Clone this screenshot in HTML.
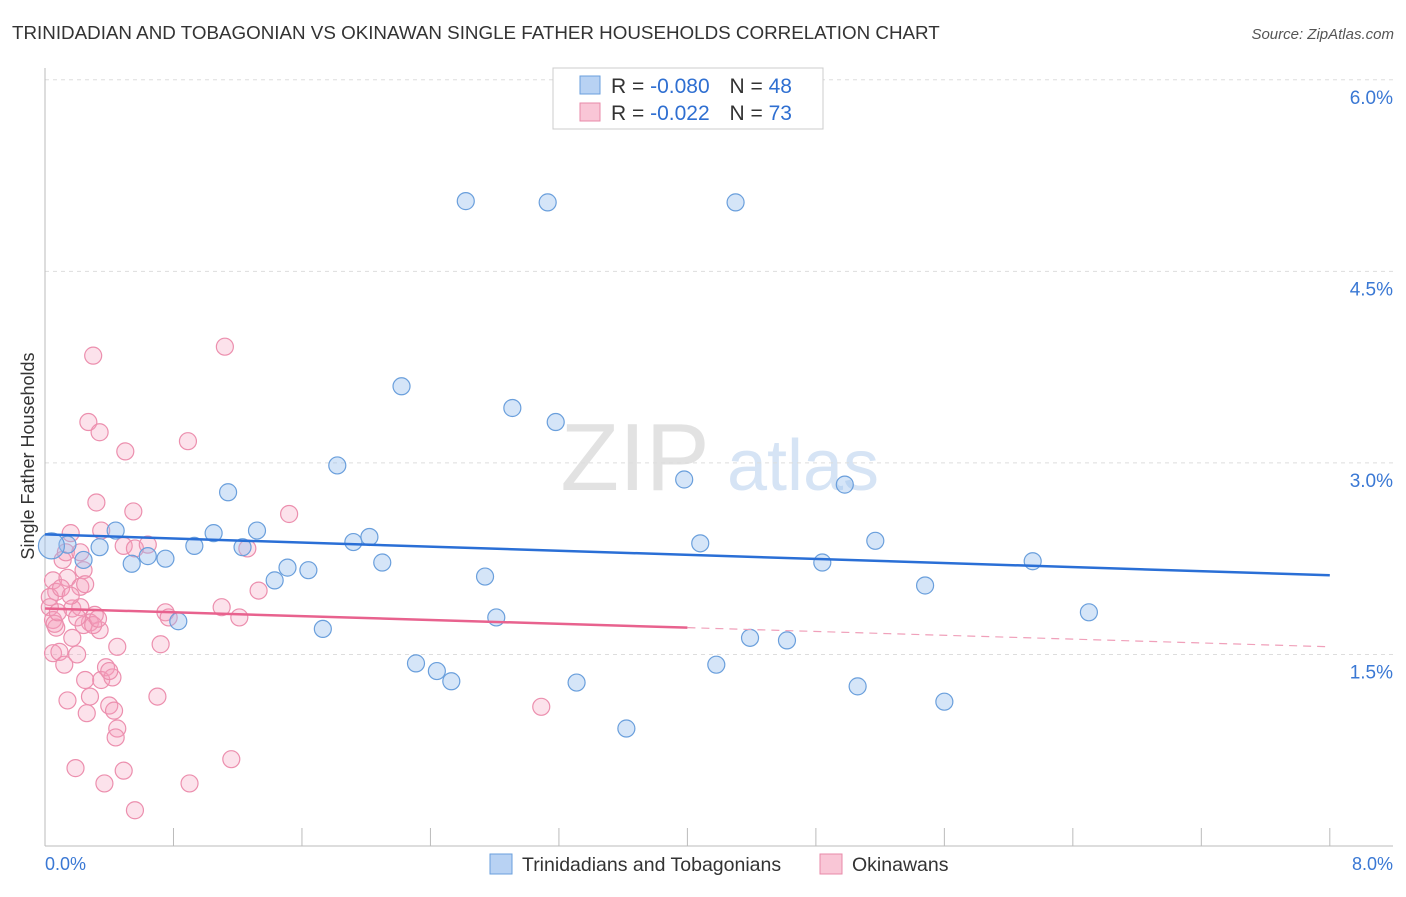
<!DOCTYPE html>
<html><head><meta charset="utf-8"><style>
body{margin:0;background:#fff;font-family:"Liberation Sans",sans-serif}
svg text{font-family:"Liberation Sans",sans-serif}
</style></head><body>
<svg id="chart" width="1406" height="892">
<text x="12" y="39" font-size="18.8" fill="#333">TRINIDADIAN AND TOBAGONIAN VS OKINAWAN SINGLE FATHER HOUSEHOLDS CORRELATION CHART</text>
<text x="1394" y="39" font-size="15" fill="#555" font-style="italic" text-anchor="end">Source: ZipAtlas.com</text>
<text x="635" y="490" font-size="96" fill="#e2e2e2" font-family="Liberation Serif" text-anchor="middle">ZIP</text>
<text x="803" y="490" font-size="72" fill="#d6e4f5" text-anchor="middle">atlas</text>
<g id="grid"></g><g id="axes"></g><g id="pts"></g><g id="trend"></g>
<text transform="translate(34,456) rotate(-90)" font-size="18" fill="#333" text-anchor="middle">Single Father Households</text>
<rect x="553" y="68" width="270" height="61" fill="#fff" stroke="#ccc"/>
<rect x="580" y="76" width="20" height="18" fill="#b8d2f3" stroke="#6a9fdc"/>
<rect x="580" y="103" width="20" height="18" fill="#f9c6d6" stroke="#e88aa8"/>
<text x="611" y="93" font-size="21" fill="#333">R = <tspan fill="#2f6fd1">-0.080</tspan>  <tspan dx="14">N = </tspan><tspan fill="#2f6fd1">48</tspan></text>
<text x="611" y="120" font-size="21" fill="#333">R =  <tspan fill="#2f6fd1">-0.022</tspan>  <tspan dx="14">N = </tspan><tspan fill="#2f6fd1">73</tspan></text>
<rect x="490" y="854" width="22" height="20" fill="#b8d2f3" stroke="#6a9fdc"/>
<text x="522" y="871" font-size="19.5" fill="#333">Trinidadians and Tobagonians</text>
<rect x="820" y="854" width="22" height="20" fill="#f9c6d6" stroke="#e88aa8"/>
<text x="852" y="871" font-size="19.5" fill="#333">Okinawans</text>
</svg>
<script>
const yTicks=[6.0,4.5,3.0,1.5];
const yTickLabels=["6.0%","4.5%","3.0%","1.5%"];
const xTickLabels=["0.0%","8.0%"];
const blueX=[2.62,3.13,4.30,2.22,2.91,3.18,1.82,3.98,4.98,1.14,4.08,5.17,0.44,1.05,1.32,2.02,1.92,0.93,1.23,0.34,0.14,0.04,0.24,0.64,0.75,0.54,2.10,4.84,6.15,1.51,1.64,1.43,2.74,5.48,6.50,2.81,0.83,1.73,4.39,4.62,2.31,2.44,2.53,4.18,3.31,5.06,5.60,3.62];
const blueY=[5.05,5.04,5.04,3.60,3.43,3.32,2.98,2.87,2.83,2.77,2.37,2.39,2.47,2.45,2.47,2.42,2.38,2.35,2.34,2.34,2.36,2.35,2.24,2.27,2.25,2.21,2.22,2.22,2.23,2.18,2.16,2.08,2.11,2.04,1.83,1.79,1.76,1.70,1.63,1.61,1.43,1.37,1.29,1.42,1.28,1.25,1.13,0.92];
const pinkX=[0.30,1.12,0.27,0.34,0.50,0.89,0.32,0.55,1.52,0.16,0.35,0.49,0.56,0.64,1.26,0.11,0.24,0.05,0.14,0.22,0.07,1.33,0.03,0.17,0.22,0.31,0.03,1.10,0.75,0.05,0.28,0.34,0.77,1.21,0.17,0.07,0.24,0.45,0.72,0.05,0.09,0.20,0.12,0.38,0.25,0.35,0.42,0.14,0.28,0.70,0.40,0.26,0.45,0.44,0.19,0.49,0.37,0.90,1.16,0.56,3.09,0.10,0.20,0.30,0.13,0.40,0.16,0.06,0.33,0.43,0.22,0.08,0.25];
const pinkY=[3.84,3.91,3.32,3.24,3.09,3.17,2.69,2.62,2.60,2.45,2.47,2.35,2.33,2.36,2.33,2.24,2.16,2.08,2.10,2.03,1.99,2.00,1.95,1.86,1.87,1.81,1.87,1.87,1.83,1.77,1.75,1.69,1.79,1.79,1.63,1.71,1.73,1.56,1.58,1.51,1.52,1.50,1.42,1.40,1.30,1.30,1.32,1.14,1.17,1.17,1.10,1.04,0.92,0.85,0.61,0.59,0.49,0.49,0.68,0.28,1.09,2.02,1.79,1.73,2.30,1.37,1.96,1.74,1.78,1.06,2.30,1.83,2.05];
const blueTrend=[[0,2.44],[8,2.12]];
const pinkTrendSolid=[[0,1.86],[4.0,1.71]];
const pinkTrendDash=[[4.0,1.71],[8,1.56]];
const xS=v=>45+v*160.6, yS=v=>846-v*127.7;
const NS="http://www.w3.org/2000/svg";
function mk(p,t,a){const e=document.createElementNS(NS,t);for(const k in a)e.setAttribute(k,a[k]);document.getElementById(p).appendChild(e);return e;}
yTicks.forEach((t,i)=>{
 const l=mk('grid','line',{x1:45,x2:1393,y1:yS(t),y2:yS(t),stroke:'#ddd','stroke-dasharray':'4,4'});
 
 
 const tx=mk('grid','text',{x:1393,y:yS(t)+24,'font-size':19,fill:'#3a78d4','text-anchor':'end'});
 tx.textContent=yTickLabels[i];
 
 
});
let ax=mk('axes','line',{x1:45,x2:45,y1:68,y2:846,stroke:'#bbb'});


ax=mk('axes','line',{x1:45,x2:1393,y1:846,y2:846,stroke:'#bbb'});


for(let i=0;i<=10;i++){const t=mk('axes','line',{x1:xS(i*0.8),x2:xS(i*0.8),y1:828,y2:846,stroke:'#bbb'});
 
 }
[[0,'start',45],[8,'end',1393]].forEach((d,i)=>{const t=mk('axes','text',{x:d[2],y:870,'font-size':18,fill:'#3a78d4','text-anchor':d[1]});t.textContent=xTickLabels[i];
 
 });
pinkX.forEach((x,i)=>{const c=mk('pts','circle',{cx:xS(x),cy:yS(pinkY[i]),r:8.5,fill:'rgba(244,160,190,0.3)',stroke:'#ec8fae','stroke-width':1.2});
 
 });
blueX.forEach((x,i)=>{const c=mk('pts','circle',{cx:xS(x),cy:yS(blueY[i]),r:i==21?13:8.5,fill:'rgba(150,190,238,0.4)',stroke:'#6a9fdc','stroke-width':1.2});
 
 });
function tl(d,col,dash,name){const l=mk('trend','line',{x1:xS(d[0][0]),y1:yS(d[0][1]),x2:xS(d[1][0]),y2:yS(d[1][1]),stroke:col,'stroke-width':dash?1.2:2.5,'stroke-dasharray':dash?'8,6':'none'});
 
 }
tl(blueTrend,'#2a6fd6',false,'trinidadian-trend-line');
tl(pinkTrendSolid,'#e8628e',false,'okinawan-trend-line');
tl(pinkTrendDash,'#f0a0ba',true,'okinawan-trend-extension');
</script>
</body></html>
